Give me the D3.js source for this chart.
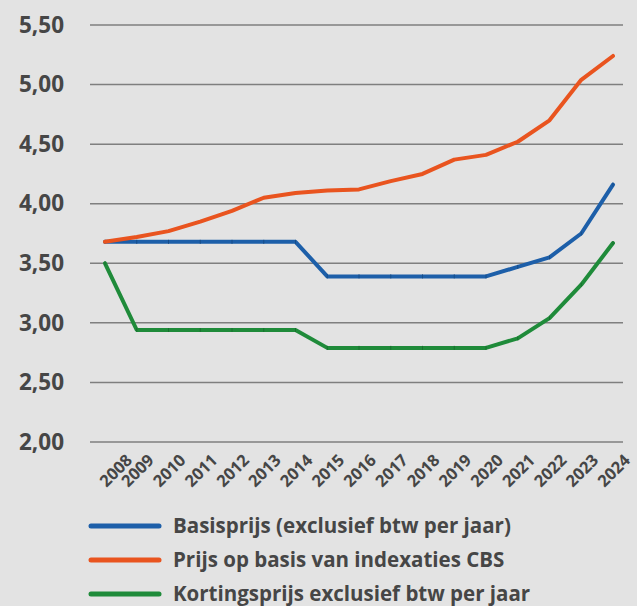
<!DOCTYPE html>
<html>
<head>
<meta charset="utf-8">
<script src="https://cdn.jsdelivr.net/npm/d3@7"></script>
<style>
  html, body { margin: 0; padding: 0; background: #e3e3e3; }
  svg { display: block; }
</style>
</head>
<body>
<div id="chart"></div>
<script>

/* DATA */
const years = ["2008","2009","2010","2011","2012","2013","2014","2015","2016",
               "2017","2018","2019","2020","2021","2022","2023","2024"];

const basisprijs = [3.68,3.68,3.68,3.68,3.68,3.68,3.68,3.39,3.39,
                    3.39,3.39,3.39,3.39,3.47,3.55,3.75,4.16];

const indexatieCBS = [3.68,3.72,3.77,3.85,3.94,4.05,4.09,4.11,4.12,
                      4.19,4.25,4.37,4.41,4.52,4.70,5.04,5.24];

const kortingsprijs = [3.50,2.94,2.94,2.94,2.94,2.94,2.94,2.79,2.79,
                       2.79,2.79,2.79,2.79,2.87,3.04,3.32,3.67];

const yTicks = [2.0, 2.5, 3.0, 3.5, 4.0, 4.5, 5.0, 5.5];

const seriesNames = ["Basisprijs (exclusief btw per jaar)",
                     "Prijs op basis van indexaties CBS",
                     "Kortingsprijs exclusief btw per jaar"];
const seriesColors = ["#1d5fa9", "#e9541f", "#1f8b3a"];

/* CONSTANTS */
const width = 637;
const height = 606;
const textColor = "#464646";
const font = "'Open Sans', sans-serif";

const svg = d3.select("#chart")
  .append("svg")
  .attr("width", width)
  .attr("height", height)
  .style("background-color", "#e3e3e3");

// SCALES ==========================================
const xScale = d3.scalePoint()
  .domain(years)
  .range([105, 613]);

const yScale = d3.scaleLinear()
  .domain([2, 5.5])
  .range([442, 25]);

// GRIDLINES
svg.append("g")
  .selectAll("line")
  .data(yTicks)
  .join("line")
  .attr("x1", 90)
  .attr("x2", 623)
  .attr("y1", d => yScale(d))
  .attr("y2", d => yScale(d))
  .attr("stroke", "#7f7f7f")
  .attr("stroke-width", 1.5);

// Y AXIS LABELS
const yAxis = d3.axisLeft(yScale)
  .tickValues(yTicks)
  .tickSize(0)
  .tickPadding(0)
  .tickFormat(d => d3.format(".2f")(d).replace(".", ","));

svg.append("g")
  .attr("transform", "translate(64, 0)")
  .call(yAxis)
  .call(g => g.select(".domain").remove())
  .call(g => g.selectAll("text")
    .attr("fill", textColor)
    .style("font-family", font)
    .style("font-weight", "700")
    .style("font-size", "22.5px"));

// X AXIS LABELS (rotated)
svg.append("g")
  .selectAll("text")
  .data(years)
  .join("text")
  .attr("transform", (d, i) => {
    const x = xScale(d) + (i === 0 ? 20 : 10);
    return `translate(${x}, 453) rotate(-45)`;
  })
  .attr("text-anchor", "end")
  .attr("dy", "0.71em")
  .attr("fill", textColor)
  .style("font-family", font)
  .style("font-weight", "700")
  .style("font-size", "16.5px")
  .text(d => d);

// LINES ===========================================
const allSeries = [basisprijs, indexatieCBS, kortingsprijs];

const line = d3.line()
  .x((d, i) => xScale(years[i]))
  .y(d => yScale(d));

// draw order: green, blue, orange on top
const order = [2, 0, 1];
order.forEach(k => {
  svg.append("path")
    .datum(allSeries[k])
    .attr("d", line)
    .attr("fill", "none")
    .attr("stroke", seriesColors[k])
    .attr("stroke-width", 4)
    .attr("stroke-linejoin", "round")
    .attr("stroke-linecap", "round");

  // tiny point markers
  if (k !== 1) {
    svg.append("g")
      .selectAll("line")
      .data(allSeries[k])
      .join("line")
      .attr("x1", (d, i) => xScale(years[i]))
      .attr("x2", (d, i) => xScale(years[i]))
      .attr("y1", d => yScale(d) - 2)
      .attr("y2", d => yScale(d) + 2)
      .attr("stroke", d3.color(seriesColors[k]).darker(0.6))
      .attr("stroke-width", 1);
  }
});

// LEGEND ==========================================
const legend = svg.append("g")
  .selectAll("g")
  .data(seriesNames)
  .join("g")
  .attr("transform", (d, i) => `translate(0, ${526 + i * 34})`);

legend.append("line")
  .attr("x1", 91)
  .attr("x2", 159)
  .attr("stroke", (d, i) => seriesColors[i])
  .attr("stroke-width", 5)
  .attr("stroke-linecap", "round");

legend.append("text")
  .attr("x", 173)
  .attr("dy", "0.36em")
  .attr("fill", textColor)
  .style("font-family", font)
  .style("font-weight", "700")
  .style("font-size", "20.5px")
  .text(d => d);

</script>
</body>
</html>
